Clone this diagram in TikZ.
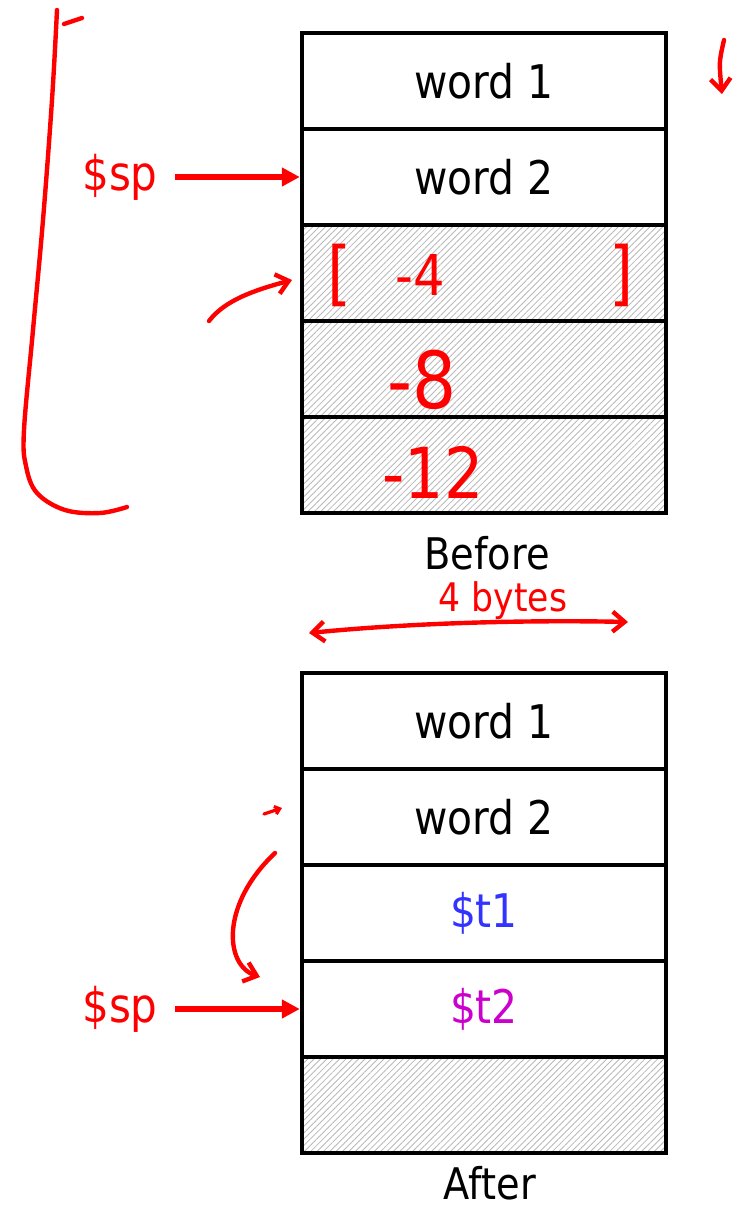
\documentclass[tikz,border=0pt]{standalone}
\usepackage{fontspec}
\setmainfont{DejaVu Sans}[FakeStretch=0.88]
\usetikzlibrary{arrows.meta,patterns.meta}

\definecolor{inkred}{RGB}{255,0,0}
\definecolor{regblue}{RGB}{51,51,255}
\definecolor{regpurple}{RGB}{204,0,204}

\tikzset{
  cell/.style={draw, line width=1.1mm, minimum width=91mm, minimum height=24mm,
    inner sep=0pt, font=\fontsize{33}{40}\selectfont},
  freecell/.style={cell, pattern={Lines[angle=45,distance=3.2pt,line width=0.6pt]},
    pattern color=black!28},
  caption/.style={font=\fontsize{31}{37}\selectfont},
  sptext/.style={text=inkred, font=\fontsize{34}{40}\selectfont},
  sptr/.style={inkred, line width=1.3mm, shorten <=3mm, -{Triangle[length=4.5mm,width=4.5mm]}},
  ink/.style={inkred, line width=1.1mm, line cap=round, line join=round},
  barb/.style={-{Straight Barb[length=3mm,width=5mm]}},
  twobarb/.style={{Straight Barb[length=3mm,width=5mm]}-{Straight Barb[length=3mm,width=5mm]}},
  hand/.style={text=inkred, inner sep=0pt, font=\fontsize{44}{52}\selectfont}
}

\begin{document}
\begin{tikzpicture}[x=0.25mm, y=-0.25mm]
  \useasboundingbox (0,0) rectangle (748,1214);

  % stack before
  \node[cell] (b1) at (484,81) {word 1};
  \node[cell] (b2) at (484,177) {word 2};
  \node[freecell] (b3) at (484,273) {};
  \node[freecell] (b4) at (484,369) {};
  \node[freecell] (b5) at (484,465) {};
  \node[caption] (before) at (487,553) {Before};

  % stack after
  \node[cell] (a1) at (484,721) {word 1};
  \node[cell] (a2) at (484,817) {word 2};
  \node[cell, text=regblue] (a3) at (484,913) {\$t1};
  \node[cell, text=regpurple] (a4) at (484,1009) {\$t2};
  \node[freecell] (a5) at (484,1105) {};
  \node[caption, anchor=base, inner sep=0pt] (after) at (490,1199) {After};

  % stack pointers
  \node[sptext] (sp1) at (120,177) {\$sp};
  \draw[sptr] (sp1) -- (b2);
  \node[sptext] (sp2) at (120,1009) {\$sp};
  \draw[sptr] (sp2) -- (a4);

  % pen notes
  \draw[ink] plot[smooth, tension=0.6] coordinates {(57,10) (52,100) (43,220) (33,330)
    (24,430) (26,466) (37,493) (65,510) (100,513) (127,507)};
  \draw[ink] (64,24) -- (82,18);
  \draw[ink, barb] (209,321) .. controls (225,300) and (255,290) .. (292,280);
  \draw[ink, barb] (724,40) .. controls (719,62) .. (722,94);
  \draw[ink, twobarb] (309,633) .. controls (420,622) and (540,620) .. (628,622);
  \draw[ink, barb] (275,853) .. controls (220,905) and (225,965) .. (260,977);
  \draw[ink, line width=0.8mm, -{Straight Barb[length=1.2mm,width=2mm]}] (264,814) -- (282,808);

  \node[hand, font=\fontsize{50}{58}\selectfont] (lb) at (340,275) {[};
  \node[hand, font=\fontsize{40}{48}\selectfont] (m4) at (420,275) {-4};
  \node[hand, font=\fontsize{50}{58}\selectfont] (rb) at (622,275) {]};
  \node[hand, font=\fontsize{56}{64}\selectfont] (m8) at (422,380) {-8};
  \node[hand, font=\fontsize{50}{58}\selectfont] (m12) at (433,472) {-12};
  \node[hand, font=\fontsize{28}{34}\selectfont] (bytes) at (503,601) {4 bytes};
\end{tikzpicture}
\end{document}
